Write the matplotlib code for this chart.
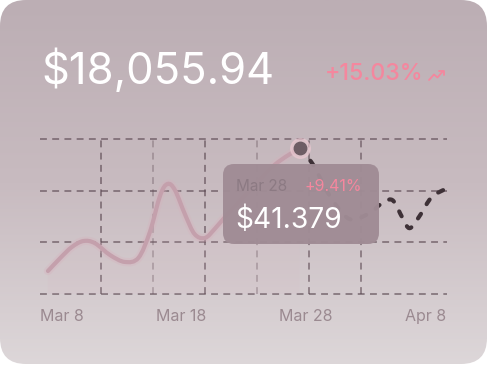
import numpy as np
import matplotlib
matplotlib.use("Agg")
import matplotlib.pyplot as plt
from matplotlib.path import Path
from matplotlib.patches import PathPatch, FancyBboxPatch

# data (x = days from Mar 8, y = value)
solid_days = [-0.1, 1.1, 2.2, 3.3, 4.4, 5.9, 7.3, 8.6, 9.7, 10.7, 11.4, 12.1, 13.1, 14.0, 15.0, 16.0, 17.4, 19.3, 21.7, 24.1]
solid_vals = [8.9, 14.0, 18.2, 20.5, 19.7, 15.0, 12.4, 14.0, 24.0, 38.3, 42.6, 40.3, 30.6, 23.2, 21.7, 25.5, 32.0, 40.0, 50.0, 56.5]
forecast_days = [24.1, 25.4, 27.0, 28.9, 30.9, 31.8, 33.0, 34.0, 34.7, 35.7, 36.8, 38.3]
forecast_vals = [56.5, 50.0, 38.0, 29.0, 31.5, 34.5, 36.4, 29.4, 25.5, 30.6, 37.5, 41.0]
tick_days = [1.2, 12.7, 24.7, 36.25]
tick_labels = ["Mar 8", "Mar 18", "Mar 28", "Apr 8"]
grid_days = [5, 10, 15, 20, 25, 30]
grid_vals = [0, 20, 40, 60]

total = "$18,055.94"
total_change = "+15.03%"
tip_date = "Mar 28"
tip_change = "+9.41%"
tip_value = "$41.379"

FONT = ["Inter", "DejaVu Sans"]
PINK = "#f4879e"


def smooth_path(xs, ys):
    # catmull-rom -> cubic bezier
    pts = np.column_stack([xs, ys])
    n = len(pts)
    verts = [pts[0]]
    codes = [Path.MOVETO]
    for i in range(n - 1):
        p0 = pts[max(i - 1, 0)]
        p1 = pts[i]
        p2 = pts[i + 1]
        p3 = pts[min(i + 2, n - 1)]
        verts += [p1 + (p2 - p0) / 6, p2 - (p3 - p1) / 6, p2]
        codes += [Path.CURVE4] * 3
    return Path(verts, codes)


fig = plt.figure(figsize=(4.88, 3.66), dpi=100)
fig.patch.set_facecolor("white")

# card background
bg = fig.add_axes([0, 0, 1, 1], zorder=0)
bg.set_xlim(0, 488)
bg.set_ylim(366, 0)
bg.axis("off")
card = FancyBboxPatch((0, 0), 487, 364, boxstyle="round,pad=0,rounding_size=26",
                      facecolor="none", edgecolor="none")
bg.add_patch(card)
grad = np.linspace(0, 1, 256).reshape(-1, 1)
cmap = matplotlib.colors.LinearSegmentedColormap.from_list("card", ["#bcaeb4", "#c8bbc0", "#ddd7d9"])
im = bg.imshow(grad, extent=[0, 488, 366, 0], cmap=cmap, aspect="auto")
im.set_clip_path(card)

# chart
ax = fig.add_axes([40 / 488, 1 - 294 / 366, 407 / 488, 155 / 366], zorder=1)
ax.patch.set_alpha(0)
ax.set_xlim(-0.865, 38.27)
ax.set_ylim(0, 60)
for s in ax.spines.values():
    s.set_visible(False)
ax.set_yticks([])
ax.set_xticks(tick_days)
ax.set_xticklabels(tick_labels, family=FONT, fontsize=11.5, color="#9b8a91")
ax.tick_params(axis="x", length=0, pad=11)

grid_alpha = [0.75, 0.4, 0.75, 0.4, 0.7, 0.7]
for d, a in zip(grid_days, grid_alpha):
    ax.axvline(d, color="#5a4750", lw=1.1, alpha=a, ls=(0, (4.5, 3.5)), zorder=1)
for v in grid_vals:
    ax.axhline(v, color="#5a4750", lw=1.1, alpha=0.75, ls=(0, (4.5, 3.5)), zorder=1, clip_on=False)

# area + solid line
sp = smooth_path(solid_days, solid_vals)
fill_verts = np.vstack([sp.vertices, [[solid_days[-1], 0], [solid_days[0], 0], sp.vertices[0]]])
fill_codes = list(sp.codes) + [Path.LINETO, Path.LINETO, Path.CLOSEPOLY]
ax.add_patch(PathPatch(Path(fill_verts, fill_codes), facecolor="#d9b4c0", edgecolor="none",
                       alpha=0.1, zorder=2))
ax.add_patch(PathPatch(sp, facecolor="none", edgecolor="#d7b0bc", lw=6, alpha=0.3,
                       capstyle="round", zorder=3))
ax.add_patch(PathPatch(sp, facecolor="none", edgecolor="#c4a0ac", lw=3,
                       capstyle="round", zorder=4))

# forecast dashed line
fp = smooth_path(forecast_days, forecast_vals)
ax.add_patch(PathPatch(fp, facecolor="none", edgecolor="#3e3137", lw=3,
                       ls=(0, (1.3, 2.7)), capstyle="round", zorder=4))

# current point
ax.scatter([solid_days[-1]], [solid_vals[-1]], s=200, color="#ecc9d2", alpha=0.6, zorder=5,
           clip_on=False)
ax.scatter([solid_days[-1]], [solid_vals[-1]], s=80, color="#6e5d65", zorder=6, clip_on=False)

# overlay: header + tooltip
ov = fig.add_axes([0, 0, 1, 1], zorder=3)
ov.set_xlim(0, 488)
ov.set_ylim(366, 0)
ov.axis("off")

ov.text(41, 84, total, family=FONT, fontsize=31.3, color="white", va="baseline")
ov.text(325, 80, total_change, family=FONT, fontsize=16.6, fontweight="medium", color=PINK,
        va="baseline")
ov.plot([429, 434, 437.5, 443], [80, 74.5, 77.5, 71], color=PINK, lw=1.3, solid_capstyle="round")
ov.plot([439, 443.5, 443.5], [70.5, 70.5, 75], color=PINK, lw=1.3, solid_capstyle="round")

tip = FancyBboxPatch((223, 164), 156, 80, boxstyle="round,pad=0,rounding_size=11",
                     facecolor="#a08c95", edgecolor="none", alpha=0.97, zorder=5)
ov.add_patch(tip)
ov.text(236, 191, tip_date, family=FONT, fontsize=11, color="#8c7a83", va="baseline", zorder=6)
ov.text(305, 191, tip_change, family=FONT, fontsize=11.5, color=PINK, va="baseline", zorder=6)
ov.text(235, 228, tip_value, family=FONT, fontsize=20.3, color="white", va="baseline", zorder=6)

fig.savefig("out.png", dpi=100)
